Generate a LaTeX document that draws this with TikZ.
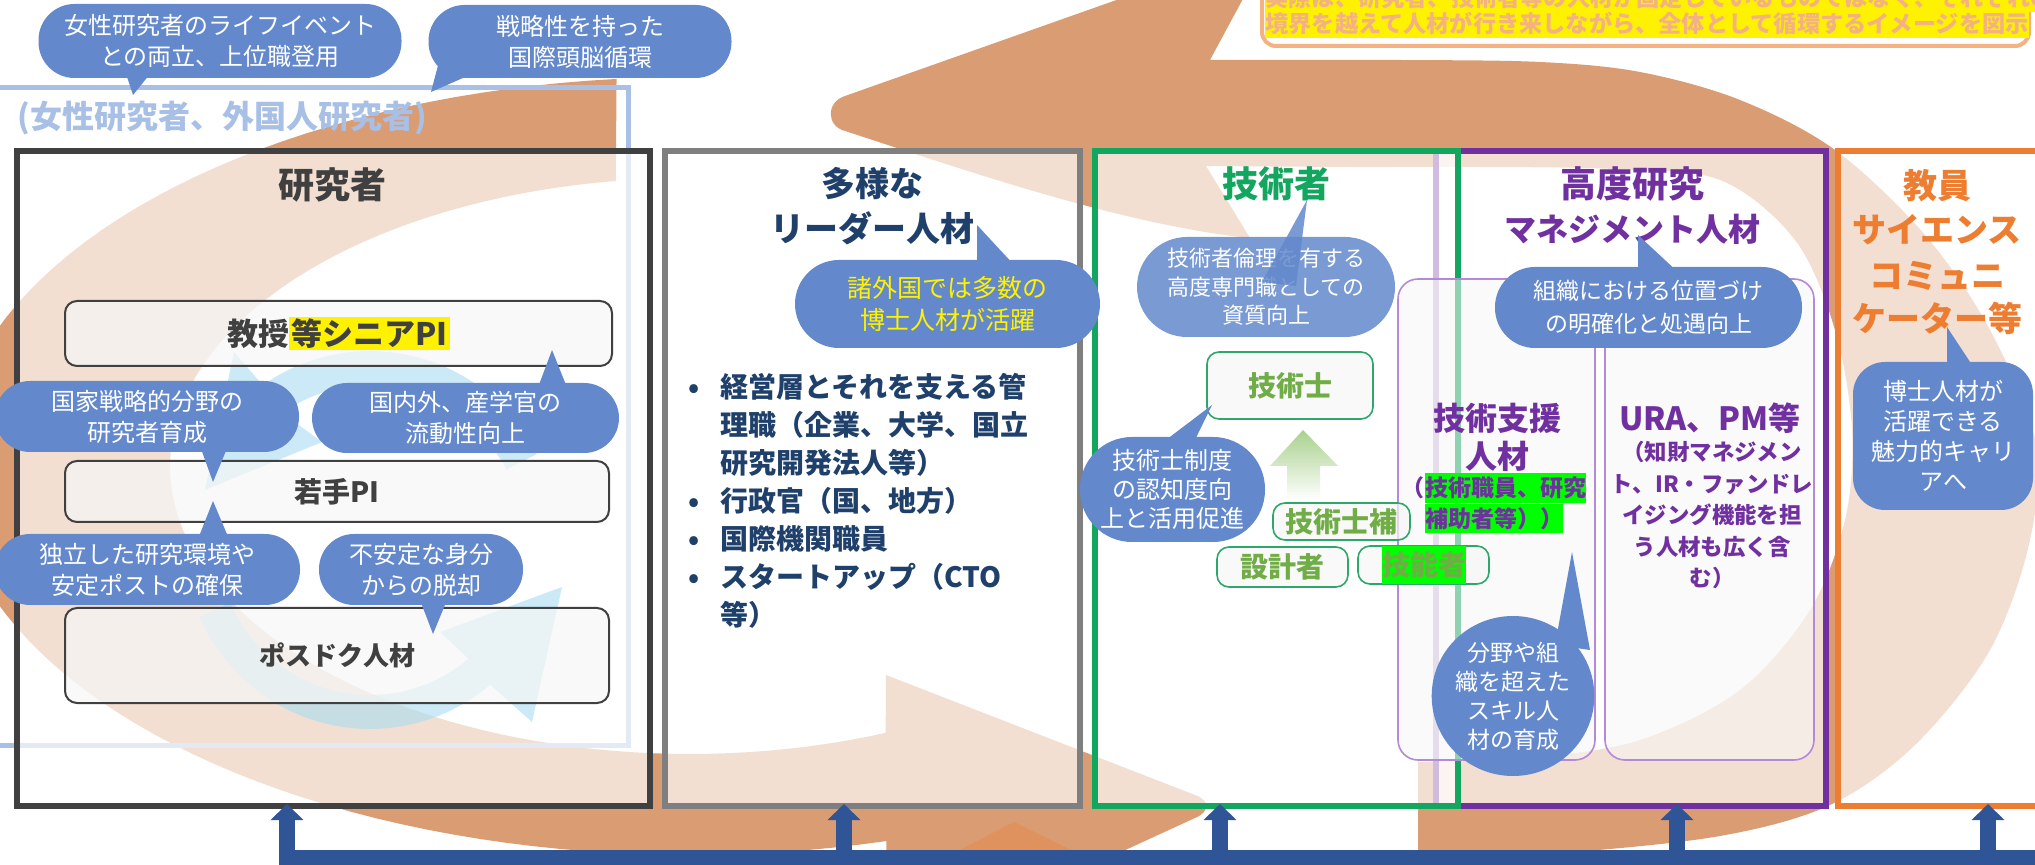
\documentclass[tikz,border=0pt]{standalone}
\usepackage{fontspec}
\setmainfont{Noto Sans CJK JP}
\usetikzlibrary{shapes.geometric,arrows.meta,calc}
\definecolor{ringc}{HTML}{DA9C72}
\definecolor{ringl}{HTML}{E0925E}
\definecolor{lblue}{HTML}{A8BFE6}
\definecolor{bubc}{HTML}{6389CC}
\definecolor{dgray}{HTML}{404040}
\definecolor{mgray}{HTML}{7F7F7F}
\definecolor{navy}{HTML}{1F406B}
\definecolor{grn}{HTML}{12A65F}
\definecolor{grnl}{HTML}{2EA86A}
\definecolor{olive}{HTML}{70AD47}
\definecolor{purp}{HTML}{7030A0}
\definecolor{lpurp}{HTML}{B48AD8}
\definecolor{orng}{HTML}{ED7D31}
\definecolor{barc}{HTML}{2F5597}
\definecolor{skyc}{HTML}{A8DCF2}
\definecolor{peach}{HTML}{F4B183}
\definecolor{boxfill}{HTML}{F7F7F7}
\definecolor{hlgreen}{HTML}{00FF00}
\definecolor{lgarrow}{HTML}{A9D18E}
\newcommand\fsz[2]{\fontsize{#1pt}{#2pt}\selectfont}
\setlength{\fboxsep}{1pt}
\begin{document}
\begin{tikzpicture}[x=0.5pt,y=-0.5pt,
  mainbox/.style={draw=#1, line width=3pt, fill=white, fill opacity=0.68, inner sep=0pt, outer sep=0pt},
  ibox/.style={draw=dgray, line width=1pt, fill=boxfill, fill opacity=0.7, rounded corners=6pt, inner sep=0pt},
  gbox/.style={draw=grnl, line width=0.8pt, fill=boxfill, fill opacity=0.7, rounded corners=6pt, inner sep=0pt},
  lbox/.style={draw=lpurp, line width=0.8pt, fill=boxfill, fill opacity=0.55, rounded corners=10pt, inner sep=0pt},
  bub/.style={fill=bubc, text=white, align=center, inner sep=0pt, font=\fsz{12}{15.5}},
  tailc/.style={fill=bubc},
  barline/.style={draw=barc, line width=8pt, -{Triangle[width=16pt,length=8pt]}},
]
\useasboundingbox (0,0) rectangle (2035,865);
\clip (0,0) rectangle (2035,865);

% ---- big circulating arrows ----
\fill[ringc] plot[smooth, tension=0.55] coordinates {(1418,858) (1560,853) (1720,836) (1830,805) (1915,745) (1990,650) (2030,540) (2035,440) (1990,330) (1925,235) (1835,150) (1740,100) (1640,72) (1540,62) (1400,60) (1210,60)}
  -- (1272,-55) -- (845,96) .. controls (826,102) and (826,126) .. (845,131)
  .. controls (950,165) and (1120,225) .. (1250,238) -- (1206,166)
  -- plot[smooth, tension=0.55] coordinates {(1206,166) (1350,167) (1480,167) (1613,169) (1720,180) (1795,240) (1835,330) (1852,430) (1845,520) (1810,610) (1740,690) (1640,740) (1530,758) (1418,762)} -- cycle;
\fill[ringc] plot[domain=95.7:285.4, samples=90] ({690+740*cos(\x)},{466-389*sin(\x)})
  -- (886,960) -- (1195,818) .. controls (1210,812) and (1210,800) .. (1195,795) -- (886,675)
  -- plot[domain=292.1:98.2, samples=90] ({690+520*cos(\x)},{466-288*sin(\x)}) -- cycle;
\fill[ringl] (960,850) -- (1014,822) -- (1071,850) -- cycle;

% ---- foreign / women researchers frame ----
\draw[lblue, line width=2.5pt] (-20,88) rectangle (628,745);
\node[anchor=west, inner sep=0pt, text=lblue, font=\bfseries\fsz{16}{20}] (lbl) at (17,118) {(女性研究者、外国人研究者)};

% ---- main boxes ----
\node[mainbox=dgray, minimum width=316.5pt, minimum height=327.5pt] (res) at (333.5,478.5) {};
\node[mainbox=mgray, minimum width=207.5pt, minimum height=327.5pt] (lead) at (872.5,478.5) {};
\node[mainbox=purp, minimum width=195pt, minimum height=327.5pt] (mgmt) at (1631,478.5) {};
\node[mainbox=grn, minimum width=181.5pt, minimum height=327.5pt] (eng) at (1276.5,478.5) {};
\node[mainbox=orng, minimum width=103.5pt, minimum height=327.5pt] (tch) at (1941.5,478.5) {};

% ---- researcher cycle arrows ----
\fill[skyc, opacity=0.6] plot[domain=27:125, samples=40] ({370+187*cos(\x)},{540-189*sin(\x)}) -- (234,352) -- (205,490) -- (322,442) -- plot[domain=125:27, samples=40] ({370+153*cos(\x)},{540-155*sin(\x)}) -- cycle;
\fill[skyc, opacity=0.6] plot[domain=204:310, samples=40] ({370+187*cos(\x)},{540-189*sin(\x)}) -- (532,722) -- (562,587) -- (440,632) -- plot[domain=310:204, samples=40] ({370+153*cos(\x)},{540-155*sin(\x)}) -- cycle;

% ---- researcher inner boxes ----
\node[ibox, minimum width=273.5pt, minimum height=32.5pt] (ib1) at (338.5,333.5) {};
\node[ibox, minimum width=272pt, minimum height=30.5pt] (ib2) at (337,491.5) {};
\node[ibox, minimum width=272pt, minimum height=47.5pt] (ib3) at (337,655.5) {};
\node[font=\bfseries\fsz{15.5}{18}, text=dgray, inner sep=0pt] (tx1) at (ib1) {教授\colorbox{yellow}{等シニアPI}};
\node[font=\bfseries\fsz{14}{17}, text=dgray, inner sep=0pt] (tx2) at (ib2) {若手PI};
\node[font=\bfseries\fsz{13}{16}, text=dgray, inner sep=0pt] (tx3) at (ib3) {ポスドク人材};

% ---- titles ----
\node[font=\bfseries\fsz{18}{22}, text=dgray, inner sep=0pt] (tres) at (332,185) {研究者};
\node[font=\bfseries\fsz{17}{22.5}, text=navy, align=center, inner sep=0pt] (tlead) at (872,206) {多様な\\リーダー人材};
\node[font=\bfseries\fsz{18}{22}, text=grn, inner sep=0pt] (teng) at (1276,184) {技術者};
\node[font=\bfseries\fsz{18}{22}, text=purp, inner sep=0pt] (tmg1) at (1632,184) {高度研究};
\node[font=\bfseries\fsz{16}{22}, text=purp, inner sep=0pt] (tmg2) at (1632,229) {マネジメント人材};
\node[font=\bfseries\fsz{17}{22}, text=orng, inner sep=0pt] (tt1) at (1937,186) {教員};
\node[font=\bfseries\fsz{17}{22}, text=orng, inner sep=0pt] (tt2) at (1937,230) {サイエンス};
\node[font=\bfseries\fsz{17}{22}, text=orng, inner sep=0pt] (tt3) at (1937,276) {コミュニ};
\node[font=\bfseries\fsz{17}{22}, text=orng, inner sep=0pt] (tt4) at (1937,318) {ケーター等};

% ---- leader list ----
\node[anchor=north west, align=left, font=\bfseries\fsz{14}{19}, text=navy, inner sep=0pt] (lst) at (688,373)
{\makebox[16pt][l]{•}経営層とそれを支える管\\
\hspace*{16pt}理職（企業、大学、国立\\
\hspace*{16pt}研究開発法人等）\\
\makebox[16pt][l]{•}行政官（国、地方）\\
\makebox[16pt][l]{•}国際機関職員\\
\makebox[16pt][l]{•}スタートアップ（CTO\\
\hspace*{16pt}等）};

% ---- management sub boxes ----
\node[lbox, minimum width=98.5pt, minimum height=240.5pt] (sup) at (1496.5,519.5) {};
\node[lbox, minimum width=104.5pt, minimum height=240.5pt] (ura) at (1709.5,519.5) {};
\node[font=\bfseries\fsz{16}{19}, text=purp, align=center, inner sep=0pt] (tsup) at (1497,437) {技術支援\\人材};
\node[anchor=west, fill=hlgreen, inner xsep=0pt, inner ysep=0pt, minimum height=15pt, text=purp, font=\bfseries\fsz{11.5}{14}] (h1) at (1425,488) {技術職員、研究};
\node[anchor=east, inner sep=0pt, text=purp, font=\bfseries\fsz{11.5}{14}] (h0) at (h1.west) {（};
\node[anchor=north west, fill=hlgreen, inner xsep=0pt, inner ysep=0pt, minimum height=14.5pt, text=purp, font=\bfseries\fsz{11.5}{14}] (h2) at (h1.south west) {補助者等））};
\node[font=\bfseries\fsz{16}{19}, text=purp, inner sep=0pt] (tura) at (1710,418) {URA、PM等};
\node[font=\bfseries\fsz{11.2}{15.75}, text=purp, align=center, inner sep=0pt] (tura2) at (1712,515) {（知財マネジメン\\ト、IR・ファンドレ\\イジング機能を担\\う人材も広く含\\む）};

% ---- engineer inner boxes ----
\shade[top color=lgarrow, bottom color=white] (1303,430) -- (1338,466) -- (1320,466) -- (1320,500) -- (1287,500) -- (1287,466) -- (1270,466) -- cycle;
\node[gbox, minimum width=83pt, minimum height=33.5pt] (g1) at (1290,385.5) {};
\node[gbox, minimum width=68.5pt, minimum height=18.5pt] (g2) at (1341.5,521.5) {};
\node[gbox, minimum width=65.5pt, minimum height=20pt] (g3) at (1282.5,567) {};
\node[gbox, minimum width=65.5pt, minimum height=19pt] (g4) at (1423.5,565) {};
\node[font=\bfseries\fsz{14}{17}, text=olive, inner sep=0pt] (tg1) at (g1) {技術士};
\node[font=\bfseries\fsz{14}{17}, text=olive, inner sep=0pt] (tg2) at (g2) {技術士補};
\node[font=\bfseries\fsz{14}{17}, text=olive, inner sep=0pt] (tg3) at (g3) {設計者};
\node[font=\bfseries\fsz{14}{17}, text=olive, fill=hlgreen, inner xsep=0pt, inner ysep=0pt, minimum height=19pt] (tg4) at (1424,565) {技能者};

% ---- bubbles ----
\node[bub, minimum width=181.5pt, minimum height=37pt, rounded corners=18pt] (q1) at (220,41) {女性研究者のライフイベント\\との両立、上位職登用};
\fill[tailc] (126,74) -- (133,95) -- (150,74) -- cycle;
\node[bub, minimum width=151.5pt, minimum height=36.5pt, rounded corners=18pt] (q2) at (580,41.5) {戦略性を持った\\国際頭脳循環};
\fill[tailc] (440,58) -- (431,92) -- (472,74) -- cycle;
\node[bub, minimum width=152pt, minimum height=35.5pt, rounded corners=17.5pt] (q3) at (147,416.5) {国家戦略的分野の\\研究者育成};
\fill[tailc] (200,446) -- (213,482) -- (228,446) -- cycle;
\node[bub, minimum width=153.5pt, minimum height=35pt, rounded corners=17.5pt] (q4) at (465.5,418) {国内外、産学官の\\流動性向上};
\fill[tailc] (537,390) -- (552,350) -- (568,390) -- cycle;
\node[bub, minimum width=152.5pt, minimum height=35.5pt, rounded corners=17.5pt] (q5) at (147.5,569.5) {独立した研究環境や\\安定ポストの確保};
\fill[tailc] (198,539) -- (213,501) -- (229,539) -- cycle;
\node[bub, minimum width=102pt, minimum height=35.5pt, rounded corners=17.5pt] (q6) at (421,569.5) {不安定な身分\\からの脱却};
\fill[tailc] (420,600) -- (433,634) -- (447,600) -- cycle;
\node[bub, minimum width=152.5pt, minimum height=44pt, rounded corners=22pt, text=yellow, font=\fsz{12.5}{16}] (q7) at (947.5,304) {諸外国では多数の\\博士人材が活躍};
\fill[tailc] (977,266) -- (977,225) -- (1015,266) -- cycle;
\node[bub, fill opacity=0.85, text opacity=1, minimum width=129pt, minimum height=50pt, rounded corners=25pt, font=\fsz{11}{14.2}] (q8) at (1266,287) {技術者倫理を有する\\高度専門職としての\\資質向上};
\fill[tailc, fill opacity=0.85] (1262,282) -- (1307,200) -- (1296,286) -- cycle;
\node[bub, minimum width=92.5pt, minimum height=52.5pt, rounded corners=26pt, font=\fsz{12}{14.5}] (q9) at (1172.5,489.5) {技術士制度\\の認知度向\\上と活用促進};
\fill[tailc] (1158,446) -- (1212,405) -- (1192,446) -- cycle;
\node[bub, minimum width=153.5pt, minimum height=40.5pt, rounded corners=20pt, font=\fsz{11.5}{16.5}] (q10) at (1648.5,307.5) {組織における位置づけ\\の明確化と処遇向上};
\fill[tailc] (1638,274) -- (1638,235) -- (1680,274) -- cycle;
\node[bub, ellipse, minimum width=78pt, minimum height=80pt, font=\fsz{11.5}{14.5}] (q11) at (1513,696) {分野や組\\織を超えた\\スキル人\\材の育成};
\fill[tailc] (1555,645) -- (1572,552) -- (1590,650) -- cycle;
\node[bub, minimum width=90pt, minimum height=74pt, rounded corners=16pt, font=\fsz{12}{15}] (q12) at (1943,436) {博士人材が\\活躍できる\\魅力的キャリ\\アへ};
\fill[tailc] (1947,368) -- (1947,327) -- (1974,368) -- cycle;

% ---- bottom circulation bar ----
\coordinate (c1) at (287,804);
\coordinate (c2) at (844,804);
\coordinate (c3) at (1220,804);
\coordinate (c4) at (1677,804);
\coordinate (c5) at (1988,804);
\coordinate (bar0) at (2045,858);
\draw[barline] (bar0) -| (c1);
\foreach \c in {c2,c3,c4,c5} \draw[barline] (\c |- bar0) -- (\c);

% ---- top-right note ----
\draw[peach, line width=2pt, rounded corners=7pt] (1262,-40) rectangle (2029,46);
\node[anchor=west, fill=yellow, inner xsep=0pt, inner ysep=1.2pt, text=peach, font=\bfseries\fsz{11.6}{14}] (n1) at (1265,-2) {実際は、研究者、技術者等の人材が固定しているものではなく、それぞれの};
\node[anchor=west, fill=yellow, inner xsep=0pt, inner ysep=1.2pt, text=peach, font=\bfseries\fsz{11.6}{14}] (n2) at (1265,24) {境界を越えて人材が行き来しながら、全体として循環するイメージを図示};
\end{tikzpicture}
\end{document}
